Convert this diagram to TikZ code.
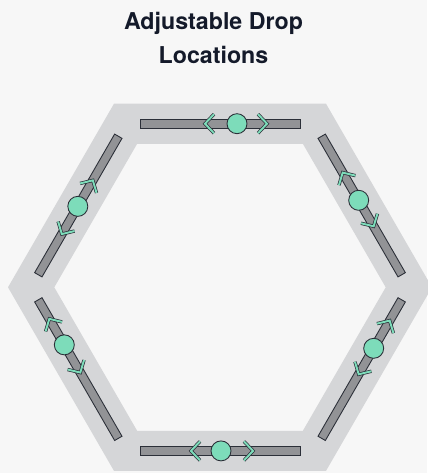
\documentclass[tikz,border=0pt]{standalone}
\usepackage{fontspec}
\newfontfamily\titlefont{TeX Gyre Heros}
\usepackage{tikz}
\usetikzlibrary{calc}
\usepackage{xcolor}
\definecolor{PageBg}{HTML}{F7F7F7}
\definecolor{BandGray}{HTML}{D5D6D8}
\definecolor{TrackGray}{HTML}{929396}
\definecolor{InkDark}{HTML}{2B2F38}
\definecolor{DropMint}{HTML}{7DDCBA}
\definecolor{TitleInk}{HTML}{141A2A}

\tikzset{
  track/.style={fill=TrackGray, draw=InkDark, line width=0.5pt},
  drop/.style={circle, fill=DropMint, draw=InkDark, line width=0.5pt, minimum size=0.4cm, inner sep=0pt},
  chev/.style={draw=InkDark, line width=0.4pt, double=DropMint, double distance=1.1pt, line join=miter},
}

\begin{document}
\begin{tikzpicture}[x=0.02cm, y=0.02cm]  % 1 unit = 1 px
  \fill[PageBg] (0,0) rectangle (427,473);
  \useasboundingbox (0,0) rectangle (427,473);
  \coordinate (hexc) at (220,185.7);
  % band round the hexagon
  \fill[BandGray, even odd rule, shift={(hexc)}]
    (0:212) -- (60:212) -- (120:212) -- (180:212) -- (240:212) -- (300:212) -- cycle
    (0:165.7) -- (60:165.7) -- (120:165.7) -- (180:165.7) -- (240:165.7) -- (300:165.7) -- cycle;
  % one track per side, drop point shifted along it
  \foreach \ang/\off [count=\i] in {90/17, 30/-6, -30/-24, -90/-1, -150/28, 150/-1} {
    \begin{scope}[shift={(hexc)}, rotate=\ang-90, shift={(0,163.6)}]
      \draw[track] (-80,-4.25) rectangle (80,4.25);
      \draw[chev] (\off-23,9.5) -- (\off-32,0) -- (\off-23,-9.5);
      \draw[chev] (\off+21,9.5) -- (\off+30,0) -- (\off+21,-9.5);
      \node[drop] (drop\i) at (\off,0) {};
    \end{scope}
  }
  \node[anchor=north, align=center, inner sep=0pt, text=TitleInk,
        font=\titlefont\bfseries\fontsize{13.2}{19.8}\selectfont] (title)
    at (213.5,461.5) {Adjustable Drop\\Locations};
\end{tikzpicture}
\end{document}
